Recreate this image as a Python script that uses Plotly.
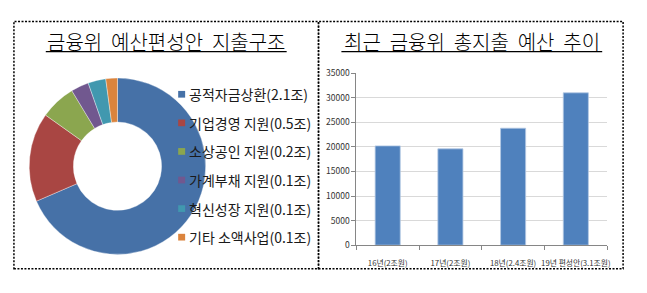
import plotly.graph_objects as go

W, H = 647, 293

# ---- data ----
pie_labels = ["공적자금상환(2.1조)", "기업경영 지원(0.5조)", "소상공인 지원(0.2조)",
              "가계부채 지원(0.1조)", "혁신성장 지원(0.1조)", "기타 소액사업(0.1조)"]
pie_values = [2.1, 0.5, 0.2, 0.1, 0.1, 0.065]
pie_colors = ["#4671A7", "#A94643", "#8BA64F", "#71588F", "#4198AF", "#DB843D"]

bar_categories = ["16년(2조원)", "17년(2조원)", "18년(2.4조원)", "19년 편성안(3.1조원)"]
bar_values = [20200, 19600, 23800, 31000]
bar_color = "#4F81BD"

left_title = "금융위\u00a0\u00a0예산편성안\u00a0\u00a0지출구조"
right_title = "최근\u00a0\u00a0금융위\u00a0\u00a0총지출\u00a0\u00a0예산\u00a0\u00a0추이"

FONT = "Noto Sans CJK KR"


def px(x):
    return x / W


def py(y):
    return 1 - y / H


fig = go.Figure()

fig.add_trace(go.Pie(
    labels=pie_labels, values=pie_values,
    marker=dict(colors=pie_colors, line=dict(color="rgba(255,255,255,0.6)", width=0.6)),
    hole=0.5, sort=False, direction="clockwise", rotation=0,
    textinfo="none", showlegend=False,
    domain=dict(x=[px(26), px(210)], y=[py(258), py(74)]),
))

fig.add_trace(go.Bar(
    x=bar_categories, y=bar_values,
    marker=dict(color=bar_color, line=dict(color="#B3C8E3", width=0.8)),
    width=0.4, showlegend=False, xaxis="x", yaxis="y",
))

shapes = []
annotations = []

# dotted frames
for x0, x1 in [(14, 320), (320, 626)]:
    shapes.append(dict(type="rect", xref="paper", yref="paper",
                       x0=px(x0), x1=px(x1), y0=py(273), y1=py(15),
                       line=dict(color="black", width=1.5, dash="2px,1.5px")))

# titles with underline
for text, cx, ux0, ux1 in [(left_title, 167, 46, 288), (right_title, 474, 343, 605)]:
    annotations.append(dict(text=text, xref="paper", yref="paper", x=px(cx), y=py(36),
                            xanchor="center", yanchor="middle", showarrow=False,
                            font=dict(family=FONT, size=20, color="black", weight=300)))
    shapes.append(dict(type="line", xref="paper", yref="paper",
                       x0=px(ux0), x1=px(ux1), y0=py(46.5), y1=py(46.5),
                       line=dict(color="black", width=1.3)))

# legend for the donut
for i, (lab, col) in enumerate(zip(pie_labels, pie_colors)):
    yc = 91 + i * 29.8
    shapes.append(dict(type="rect", xref="paper", yref="paper",
                       x0=px(179), x1=px(186), y0=py(yc + 3.5), y1=py(yc - 3.5),
                       fillcolor=col, line=dict(width=0)))
    annotations.append(dict(text=lab, xref="paper", yref="paper", x=px(188), y=py(yc),
                            xanchor="left", yanchor="middle", showarrow=False,
                            font=dict(family=FONT, size=14, color="#1a1a1a")))

fig.update_layout(
    width=W, height=H, margin=dict(l=0, r=0, t=0, b=0),
    paper_bgcolor="white", plot_bgcolor="white",
    shapes=shapes, annotations=annotations,
    xaxis=dict(domain=[px(358), px(610)], showline=True, linecolor="#868686", linewidth=1,
               ticks="outside", tickson="boundaries", ticklen=4, tickcolor="#868686",
               tickangle=0, ticklabelstandoff=11,
               tickfont=dict(family=FONT, size=7.8, color="#333333"), showgrid=False,
               fixedrange=True),
    yaxis=dict(domain=[py(248.3), py(69)], range=[0, 35000], dtick=5000,
               tickformat="d",
               showline=True, linecolor="#868686", linewidth=1,
               ticks="outside", ticklen=4, tickcolor="#868686",
               gridcolor="#D9D9D9", gridwidth=1, zeroline=False,
               tickfont=dict(family=FONT, size=8.5, color="#333333"),
               fixedrange=True),
    bargap=0.6,
)

fig.write_html("out.html")
